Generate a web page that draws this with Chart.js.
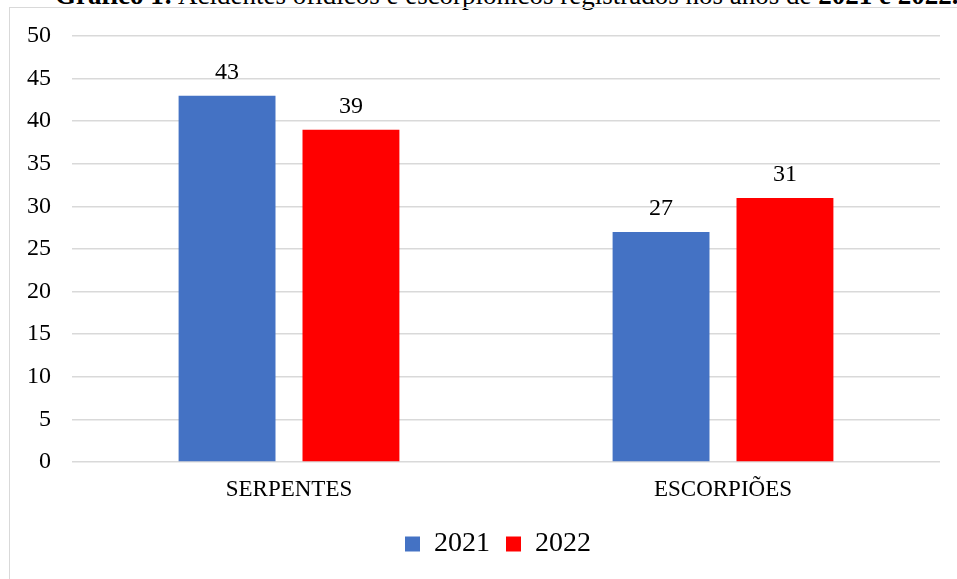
<!DOCTYPE html>
<html lang="pt-BR">
<head>
<meta charset="utf-8">
<title>Gráfico 1</title>
<script src="https://cdn.jsdelivr.net/npm/chart.js@4.4.1/dist/chart.umd.min.js"></script>
<style>
  html, body {
    margin: 0;
    padding: 0;
    width: 957px;
    height: 579px;
    overflow: hidden;
    background: #ffffff;
    font-family: "Liberation Serif", "Times New Roman", serif;
  }
  #caption {
    position: absolute;
    left: 55px;
    top: -18px;
    font-size: 27px;
    line-height: 27px;
    white-space: nowrap;
    color: #000;
  }
  #frame {
    position: absolute;
    left: 9px;
    top: 7px;
    width: 1000px;
    height: 700px;
    border: 1px solid #d9d9d9;
  }
  #wrap {
    position: absolute;
    left: 0;
    top: 0;
    width: 957px;
    height: 579px;
  }
</style>
</head>
<body>
<div id="caption"><b>Gráfico 1:</b> Acidentes ofídicos e escorpiônicos registrados nos anos de <b>2021 e 2022.</b></div>
<div id="frame"></div>
<div id="wrap"><canvas id="acidentesChart"></canvas></div>

<script>
// categorias e valores por ano
const categorias = ["SERPENTES", "ESCORPIÕES"];
const anos = ["2021", "2022"];
const valores2021 = [43, 27];
const valores2022 = [39, 31];
const ticksY = [0, 5, 10, 15, 20, 25, 30, 35, 40, 45, 50];

const corAzul = "#4472C4";
const corVermelho = "#FF0000";
const fonte = "'Liberation Serif', 'Times New Roman', serif";

// escreve o valor em cima de cada barra
const rotulosBarras = {
  id: "rotulosBarras",
  afterDatasetsDraw(chart) {
    const ctx = chart.ctx;
    ctx.save();
    ctx.font = "24px " + fonte;
    ctx.fillStyle = "#000";
    ctx.textAlign = "center";
    ctx.textBaseline = "alphabetic";
    chart.data.datasets.forEach((ds, i) => {
      const meta = chart.getDatasetMeta(i);
      meta.data.forEach((bar, j) => {
        ctx.fillText(String(ds.data[j]), bar.x, bar.y - 17);
      });
    });
    ctx.restore();
  },
};

// puxa a legenda um pouco para a esquerda do centro da área do gráfico
const ajusteLegenda = {
  id: "ajusteLegenda",
  afterLayout(chart) {
    if (!chart.legend) return;
    chart.legend.left -= 8;
    chart.legend.right -= 8;
  },
};

document.addEventListener("DOMContentLoaded", function () {
  new Chart(document.getElementById("acidentesChart"), {
    type: "bar",
    data: {
      labels: categorias,
      datasets: [
        {
          label: anos[0],
          data: valores2021,
          backgroundColor: corAzul,
          categoryPercentage: 0.571,
          barPercentage: 0.782,
        },
        {
          label: anos[1],
          data: valores2022,
          backgroundColor: corVermelho,
          categoryPercentage: 0.571,
          barPercentage: 0.782,
        },
      ],
    },
    options: {
      responsive: true,
      maintainAspectRatio: false,
      animation: false,
      layout: {
        padding: { left: 0, right: 17, top: 36, bottom: 11 },
      },
      plugins: {
        tooltip: { enabled: false },
        legend: {
          position: "bottom",
          fullSize: false,
          labels: {
            boxWidth: 15,
            boxHeight: 15,
            padding: 16,
            color: "#000",
            font: { family: fonte, size: 28 },
          },
        },
      },
      scales: {
        x: {
          grid: { display: false },
          border: { display: false },
          ticks: {
            color: "#000",
            padding: 6,
            font: { family: fonte, size: 23 },
          },
          afterFit(scale) {
            scale.height = 52;
          },
        },
        y: {
          min: 0,
          max: 50,
          afterBuildTicks(scale) {
            scale.ticks = ticksY.map((v) => ({ value: v }));
          },
          grid: {
            color: "#d9d9d9",
            lineWidth: 1.5,
            drawTicks: false,
          },
          border: { display: false },
          ticks: {
            color: "#000",
            padding: 21,
            font: { family: fonte, size: 24 },
          },
          afterFit(scale) {
            scale.width = 72;
          },
        },
      },
    },
    plugins: [rotulosBarras, ajusteLegenda],
  });
});
</script>
</body>
</html>
